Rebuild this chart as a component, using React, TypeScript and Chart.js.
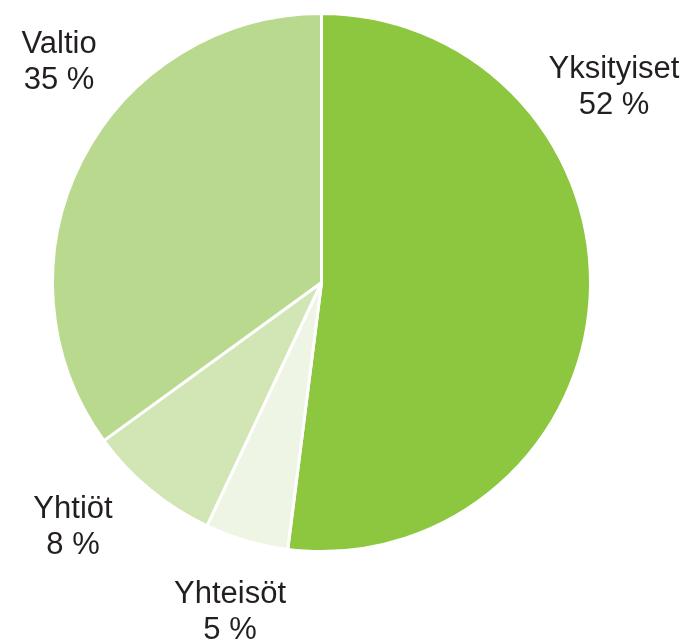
import React, { useEffect, useRef } from "react";
import { Chart, registerables } from "chart.js";

Chart.register(...registerables);

const categories = ["Yksityiset", "Yhteisöt", "Yhtiöt", "Valtio"];
const shares = [52, 5, 8, 35];
const colors = ["#8dc63f", "#eef5e4", "#d2e5b5", "#b9d98f"];
// label anchor (center x, first-line baseline y) in canvas px
const labelAnchors = [
  [614, 78],
  [230, 603],
  [73, 518],
  [59, 53],
];

const labelPlugin = {
  id: "outerLabels",
  afterDraw(chart: any) {
    const ctx = chart.ctx;
    ctx.save();
    ctx.fillStyle = "#231f20";
    ctx.font = "31px 'Liberation Sans', Arial, sans-serif";
    ctx.textAlign = "center";
    ctx.textBaseline = "alphabetic";
    const data = chart.data.datasets[0].data as number[];
    chart.data.labels.forEach((lab: string, i: number) => {
      const [x, y] = labelAnchors[i];
      ctx.fillText(lab, x, y);
      ctx.fillText(`${data[i]} %`, x, y + 36);
    });
    ctx.restore();
  },
};

export default function App() {
  const ref = useRef<HTMLCanvasElement>(null);
  useEffect(() => {
    document.body.style.margin = "0";
    const chart = new Chart(ref.current!, {
      type: "pie",
      data: {
        labels: categories,
        datasets: [
          {
            data: shares,
            backgroundColor: colors,
            borderColor: "#ffffff",
            borderWidth: 3,
          },
        ],
      },
      options: {
        animation: false,
        responsive: false,
        layout: { padding: { left: 51, right: 96, top: 12, bottom: 87 } },
        plugins: { legend: { display: false }, tooltip: { enabled: false } },
      },
      plugins: [labelPlugin],
    });
    return () => chart.destroy();
  }, []);
  return (
    <div style={{ width: 688, height: 640 }}>
      <canvas ref={ref} width={688} height={640} style={{ display: "block" }} />
    </div>
  );
}
